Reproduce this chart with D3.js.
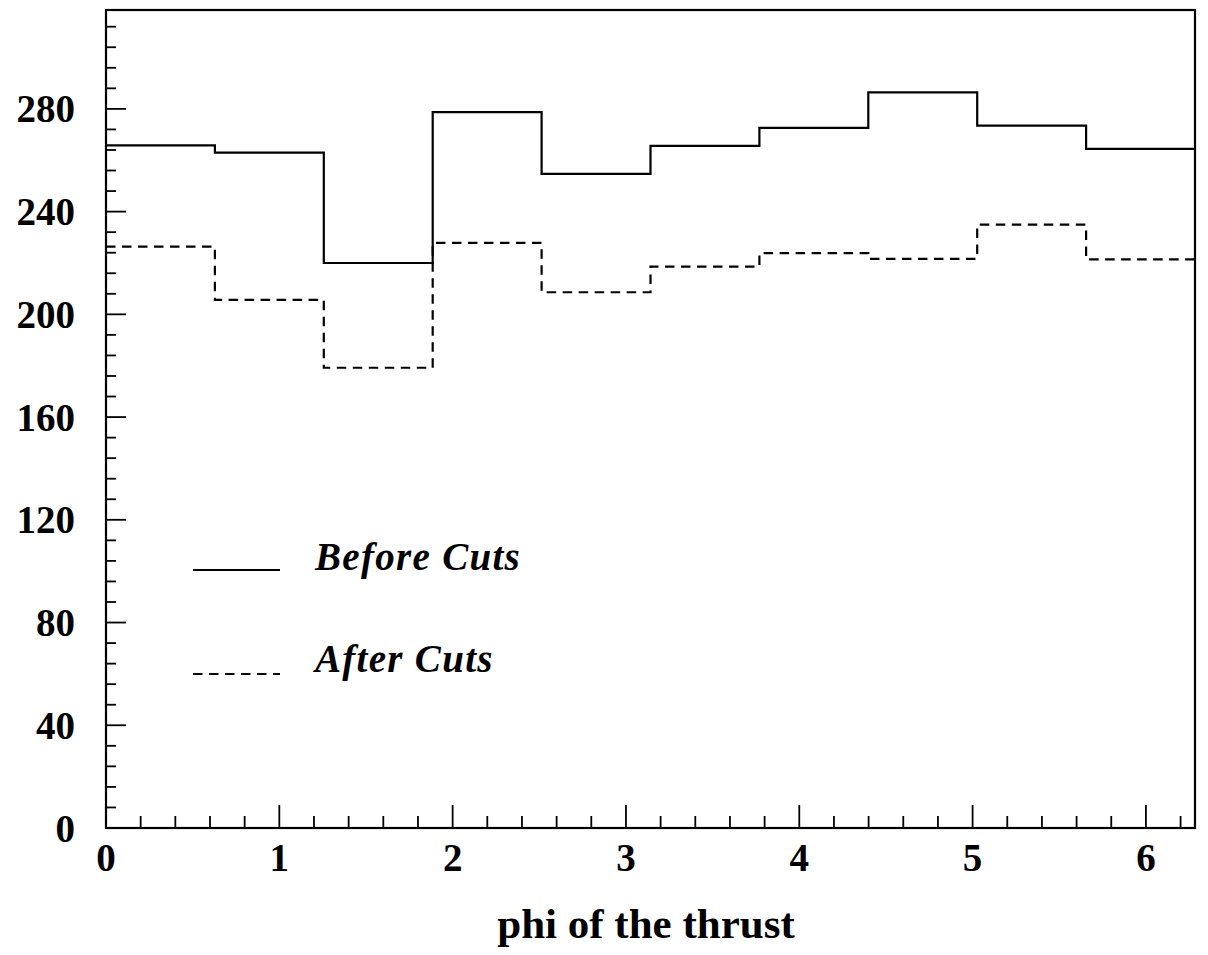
<!DOCTYPE html>
<html>
<head>
<meta charset="utf-8">
<script src="https://cdn.jsdelivr.net/npm/d3@7"></script>
<style>
  html, body { margin: 0; padding: 0; background: #fff; }
  svg { display: block; }
  text { font-family: "Liberation Serif", "DejaVu Serif", serif; fill: #000; }
</style>
</head>
<body>
<svg id="chart" width="1208" height="955"></svg>
<script>
// Histogram of the thrust azimuth, 10 bins over [0, 2π)
const phiMin = 0;
const phiMax = 2 * Math.PI;
const nBins = 10;
const beforeCuts = [265.8, 263.0, 220.0, 278.7, 254.7, 265.6, 272.6, 286.4, 273.5, 264.4];
const afterCuts  = [226.4, 205.6, 179.2, 227.8, 208.6, 218.6, 223.8, 221.6, 234.9, 221.4];
const yTicks = [0, 40, 80, 120, 160, 200, 240, 280];
const xTicks = [0, 1, 2, 3, 4, 5, 6];
const yMax = 318.5;
const legendItems = [
  { label: "Before Cuts", values: beforeCuts, dash: null },
  { label: "After Cuts", values: afterCuts, dash: "9.5,6.5" }
];

const svg = d3.select("#chart");
const margin = { left: 106, right: 13, top: 10, bottom: 127 };
const W = 1208, H = 955;
const x = d3.scaleLinear().domain([phiMin, phiMax]).range([margin.left, W - margin.right]);
const y = d3.scaleLinear().domain([0, yMax]).range([H - margin.bottom, margin.top]);

const binWidth = (phiMax - phiMin) / nBins;

function stepPoints(values) {
  const pts = values.map((v, i) => [phiMin + i * binWidth, v]);
  pts.push([phiMax, values[values.length - 1]]);
  return pts;
}

const line = d3.line()
  .x(d => x(d[0]))
  .y(d => y(d[1]))
  .curve(d3.curveStepAfter);

// histogram outlines
legendItems.forEach(s => {
  svg.append("path")
    .attr("d", line(stepPoints(s.values)))
    .attr("fill", "none")
    .attr("stroke", "#000")
    .attr("stroke-width", 2.2)
    .attr("stroke-dasharray", s.dash);
});

// y axis ticks (inward), major every 40, minor every 8
const yMinor = d3.range(0, yMax, 8);
svg.append("g").selectAll("line").data(yMinor).join("line")
  .attr("x1", x(0)).attr("x2", d => x(0) + (d % 40 === 0 ? 20 : 10))
  .attr("y1", d => y(d)).attr("y2", d => y(d))
  .attr("stroke", "#000").attr("stroke-width", 1.8);

svg.append("g").selectAll("text").data(yTicks).join("text")
  .attr("x", 75).attr("y", d => y(d) + 13.5)
  .attr("text-anchor", "end")
  .attr("font-size", 39).attr("font-weight", "bold")
  .text(d => d);

// x axis ticks (inward), major every 1, minor every 0.2
const xMinor = d3.range(0, phiMax, 0.2).map(v => Math.round(v * 10) / 10);
svg.append("g").selectAll("line").data(xMinor).join("line")
  .attr("x1", d => x(d)).attr("x2", d => x(d))
  .attr("y1", y(0)).attr("y2", d => y(0) - (Math.abs(d - Math.round(d)) < 1e-6 ? 23 : 12))
  .attr("stroke", "#000").attr("stroke-width", 1.8);

svg.append("g").selectAll("text").data(xTicks).join("text")
  .attr("x", d => x(d)).attr("y", 871)
  .attr("text-anchor", "middle")
  .attr("font-size", 39).attr("font-weight", "bold")
  .text(d => d);

// frame
svg.append("rect")
  .attr("x", x(phiMin)).attr("y", y(yMax))
  .attr("width", x(phiMax) - x(phiMin)).attr("height", y(0) - y(yMax))
  .attr("fill", "none").attr("stroke", "#000").attr("stroke-width", 2.2);

// axis title
svg.append("text")
  .attr("x", 646).attr("y", 938)
  .attr("text-anchor", "middle")
  .attr("font-size", 43).attr("font-weight", "bold")
  .text("phi of the thrust");

// legend
const legendY = [570, 674];
const legendText = [570, 672];
legendItems.forEach((s, i) => {
  svg.append("line")
    .attr("x1", 193).attr("x2", 280)
    .attr("y1", legendY[i]).attr("y2", legendY[i])
    .attr("stroke", "#000").attr("stroke-width", 2)
    .attr("stroke-dasharray", s.dash);
  svg.append("text")
    .attr("x", 315).attr("y", legendText[i])
    .attr("font-size", 39).attr("font-weight", "bold").attr("font-style", "italic")
    .attr("letter-spacing", 1.3)
    .text(s.label);
});
</script>
</body>
</html>
